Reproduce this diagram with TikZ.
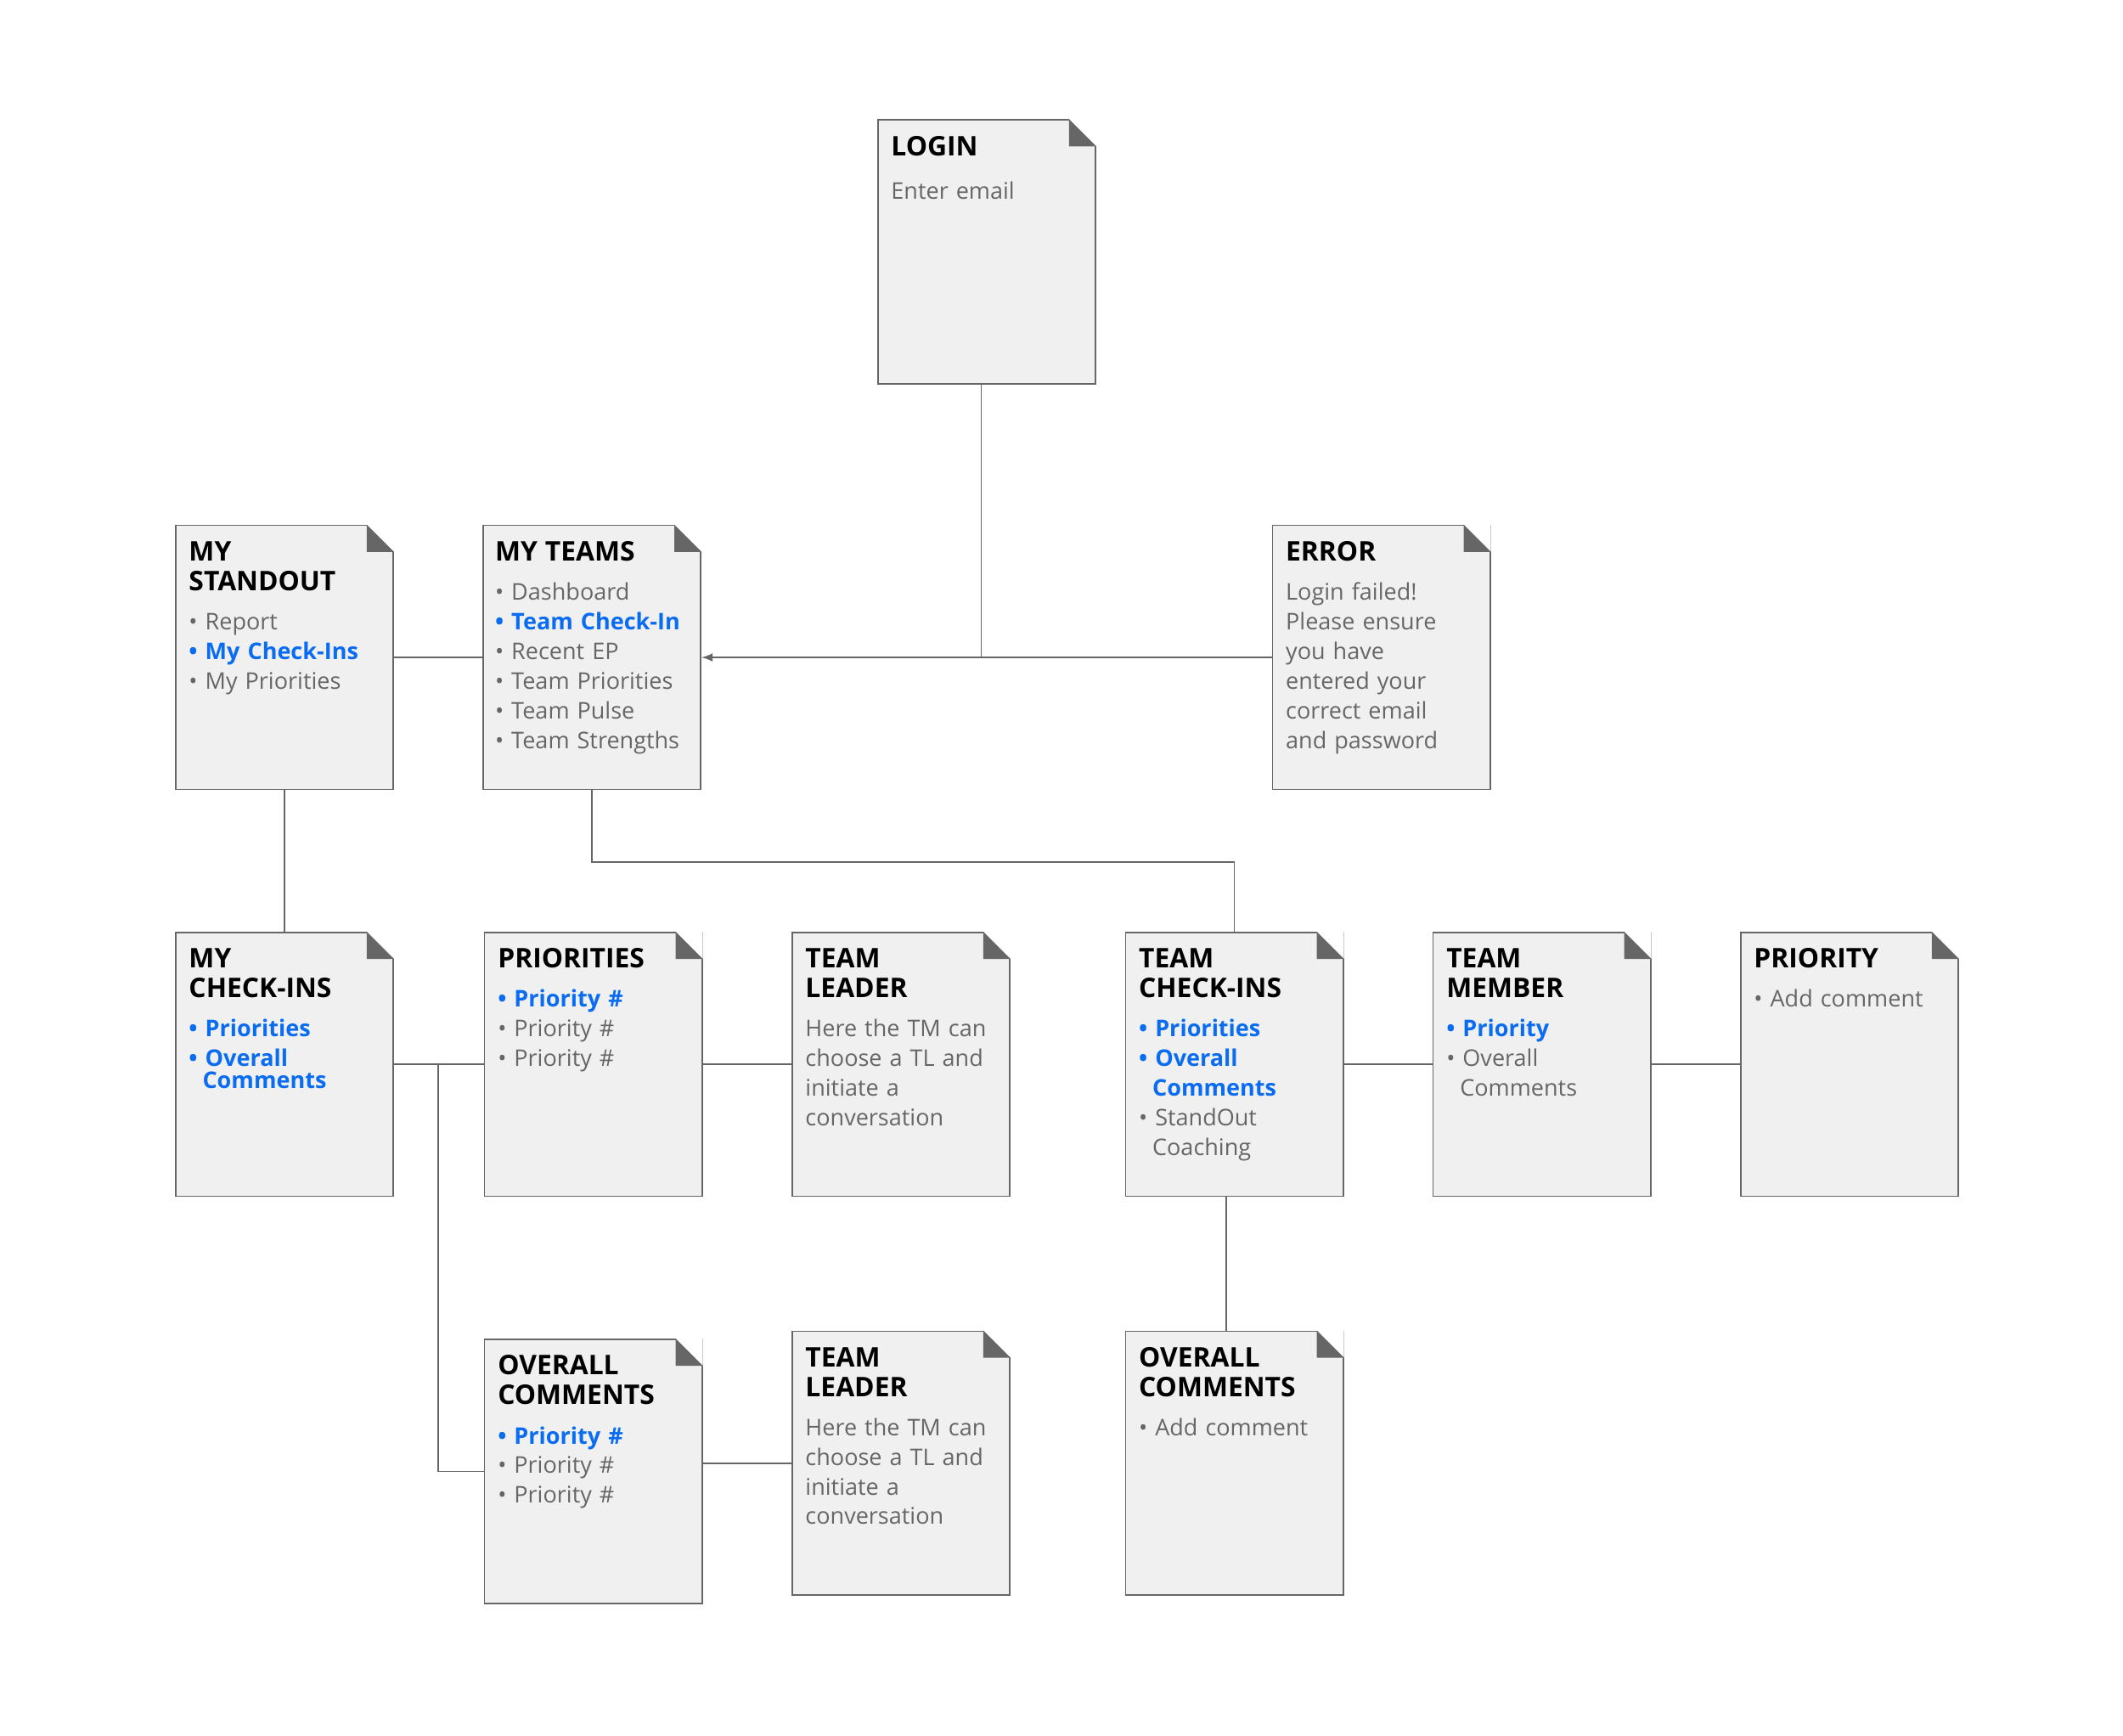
\documentclass[tikz,border=0pt]{standalone}
\usepackage{fontspec}
\setmainfont{Open Sans}
\usetikzlibrary{positioning}
\definecolor{pagefill}{HTML}{F0F0F0}
\definecolor{edge}{HTML}{666666}
\definecolor{txtgray}{HTML}{666666}
\definecolor{hiblue}{HTML}{0A6CF0}
\newcommand{\ttl}[1]{{\fontsize{11.3}{14.2}\selectfont\bfseries\color{black}#1}}
\newcommand{\itm}[1]{\textbullet\ #1}
\newcommand{\hit}[1]{{\bfseries\color{hiblue}#1}}
\newcommand{\pagecorner}[1]{%
  \fill[white] ([xshift=-0.4cm]#1.north east) -- (#1.north east) -- ([yshift=-0.4cm]#1.north east) -- cycle;
  \fill[edge] ([xshift=-0.4cm]#1.north east) -- ([yshift=-0.4cm]#1.north east) -- ([xshift=-0.4cm,yshift=-0.4cm]#1.north east) -- cycle;}
\begin{document}
\begin{tikzpicture}[x=0.02cm,y=-0.02cm]
    \tikzstyle{page} = [rectangle, draw=edge, fill=pagefill, minimum width=3.2cm, minimum height=3.88cm, inner sep=0, line width=0.6pt]
    \tikzstyle{txt} = [anchor=north west, inner sep=0, align=left, text width=3cm, text=txtgray, font=\fontsize{9.6}{12.4}\selectfont]
    \tikzstyle{link} = [draw=edge, line width=0.6pt]
    \useasboundingbox (0,0) rectangle (1560,1275);
        % pages, row 1
        \node[page] (login) at (725,185) {};
        % row 2
        \node[page] (standout) at (209,483) {};
        \node[page] (teams) at (435,483) {};
        \node[page] (error) at (1015,483) {};
        % row 3
        \node[page] (checkins) at (209,782) {};
        \node[page] (prio) at (436,782) {};
        \node[page] (leadA) at (662,782) {};
        \node[page] (teamci) at (907,782) {};
        \node[page] (member) at (1133,782) {};
        \node[page] (prioc) at (1359,782) {};
        % row 4
        \node[page] (overall) at (436,1081) {};
        \node[page] (leadB) at (662,1075) {};
        \node[page] (overallc) at (907,1075) {};
        \foreach \p in {login,standout,teams,error,checkins,prio,leadA,teamci,member,prioc,overall,leadB,overallc}
            \pagecorner{\p};
        %%% texts
        \node[txt] at ([xshift=0.2cm,yshift=-0.24cm]login.north west) {\ttl{LOGIN}\\[6pt]Enter email};
        \node[txt] at ([xshift=0.2cm,yshift=-0.24cm]standout.north west) {\ttl{MY\\STANDOUT}\\[4pt]\itm{Report}\\\hit{\itm{My Check-Ins}}\\\itm{My Priorities}};
        \node[txt] at ([xshift=0.18cm,yshift=-0.24cm]teams.north west) {\ttl{MY TEAMS}\\[4pt]\itm{Dashboard}\\\hit{\itm{Team Check-In}}\\\itm{Recent EP}\\\itm{Team Priorities}\\\itm{Team Pulse}\\\itm{Team Strengths}};
        \node[txt] at ([xshift=0.2cm,yshift=-0.24cm]error.north west) {\ttl{ERROR}\\[4pt]Login failed!\\Please ensure\\you have\\entered your\\correct email\\and password};
        \node[txt] at ([xshift=0.2cm,yshift=-0.24cm]checkins.north west) {\ttl{MY\\CHECK-INS}\\[4pt]\hit{\itm{Priorities}}\\\hit{\itm{Overall}}\\[-3pt]\hspace*{0.2cm}\hit{Comments}};
        \node[txt] at ([xshift=0.2cm,yshift=-0.24cm]prio.north west) {\ttl{PRIORITIES}\\[4pt]\hit{\itm{Priority \#}}\\\itm{Priority \#}\\\itm{Priority \#}};
        \node[txt] at ([xshift=0.2cm,yshift=-0.24cm]leadA.north west) {\ttl{TEAM\\LEADER}\\[4pt]Here the TM can\\choose a TL and\\initiate a\\conversation};
        \node[txt] at ([xshift=0.2cm,yshift=-0.24cm]teamci.north west) {\ttl{TEAM\\CHECK-INS}\\[4pt]\hit{\itm{Priorities}}\\\hit{\itm{Overall}}\\\hspace*{0.2cm}\hit{Comments}\\\itm{StandOut}\\\hspace*{0.2cm}Coaching};
        \node[txt] at ([xshift=0.2cm,yshift=-0.24cm]member.north west) {\ttl{TEAM\\MEMBER}\\[4pt]\hit{\itm{Priority}}\\\itm{Overall}\\\hspace*{0.2cm}Comments};
        \node[txt] at ([xshift=0.2cm,yshift=-0.24cm]prioc.north west) {\ttl{PRIORITY}\\[4pt]\itm{Add comment}};
        \node[txt] at ([xshift=0.2cm,yshift=-0.24cm]overall.north west) {\ttl{OVERALL\\COMMENTS}\\[4pt]\hit{\itm{Priority \#}}\\\itm{Priority \#}\\\itm{Priority \#}};
        \node[txt] at ([xshift=0.2cm,yshift=-0.24cm]leadB.north west) {\ttl{TEAM\\LEADER}\\[4pt]Here the TM can\\choose a TL and\\initiate a\\conversation};
        \node[txt] at ([xshift=0.2cm,yshift=-0.24cm]overallc.north west) {\ttl{OVERALL\\COMMENTS}\\[4pt]\itm{Add comment}};
        %%% links
        \coordinate (join) at (login.south |- teams.east);
        \draw[link] ([xshift=-0.08cm]login.south) -- ([xshift=-0.08cm]join);
        \draw[link,-latex] (error.west) -- (teams.east);
        \draw[link] (standout.east) -- (teams.west);
        \draw[link] (standout.south) -- (checkins.north);
        \draw[link] (teams.south) -- ++(0,53) -| (teamci.north);
        \draw[link] (checkins.east) -- (prio.west);
        \coordinate (fork) at (322,782);
        \draw[link] (fork) |- (overall.west);
        \draw[link] (prio.east) -- (leadA.west);
        \draw[link] (overall.east |- leadB.west) -- (leadB.west);
        \draw[link] (teamci.east) -- (member.west);
        \draw[link] (member.east) -- (prioc.west);
        \draw[link] ([xshift=-0.12cm]teamci.south) -- ([xshift=-0.12cm]overallc.north);
\end{tikzpicture}
\end{document}
